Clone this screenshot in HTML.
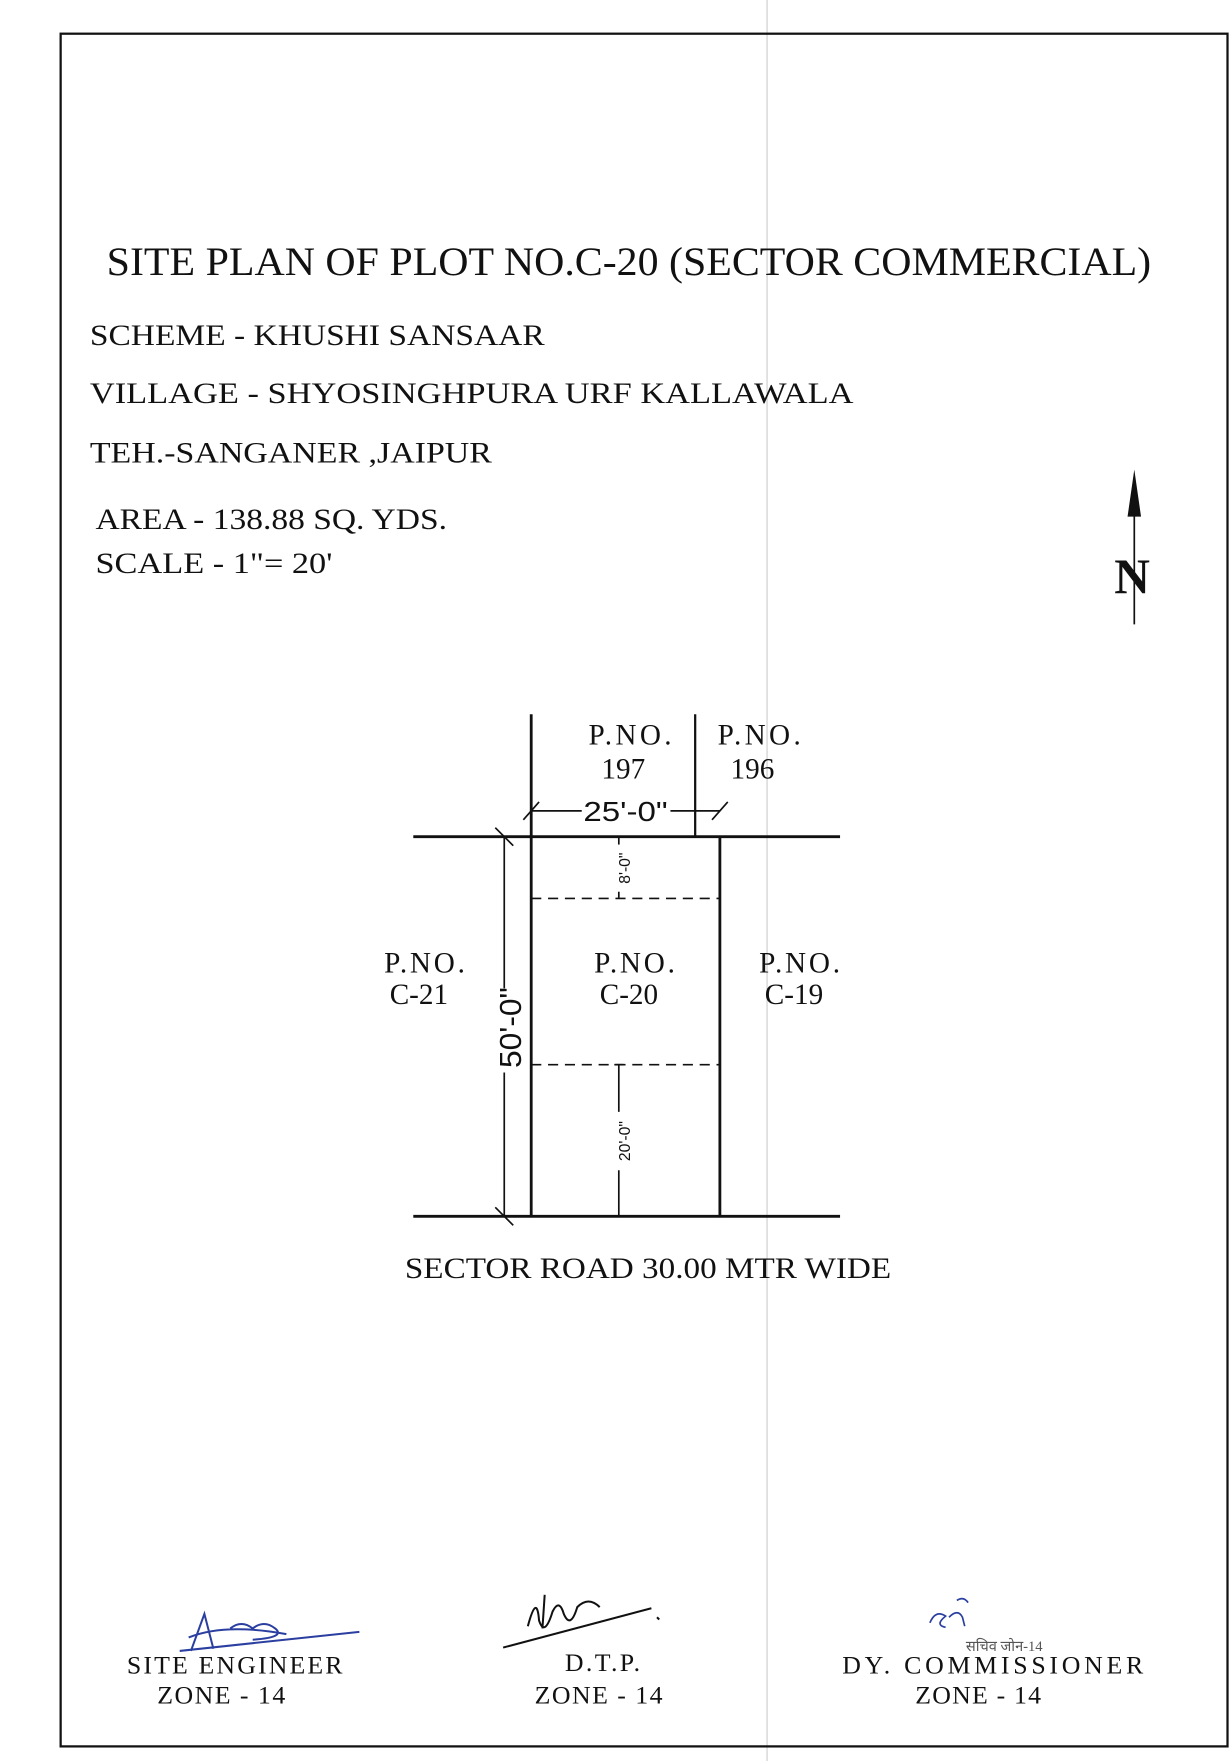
<!DOCTYPE html>
<html><head><style>
html,body{margin:0;padding:0;background:#fff}
svg{display:block}
text{font-family:"Liberation Serif",serif;fill:#111}
.s{font-family:"Liberation Sans",sans-serif}
</style></head><body>
<svg width="1232" height="1761" viewBox="0 0 1097 1568" preserveAspectRatio="none" xmlns="http://www.w3.org/2000/svg">
<rect x="0" y="0" width="1097" height="1568" fill="#fff"/>
<line x1="683" y1="0" x2="683" y2="1568" stroke="#ccc" stroke-width="1"/>
<rect x="54" y="30" width="1039" height="1525" fill="none" stroke="#111" stroke-width="2"/>
<text x="95" y="245" font-size="36" textLength="930" lengthAdjust="spacingAndGlyphs">SITE PLAN OF PLOT NO.C-20 (SECTOR COMMERCIAL)</text>
<text x="80" y="307" font-size="26" textLength="405" lengthAdjust="spacingAndGlyphs">SCHEME - KHUSHI SANSAAR</text>
<text x="80" y="359" font-size="26" textLength="680" lengthAdjust="spacingAndGlyphs">VILLAGE  - SHYOSINGHPURA URF KALLAWALA</text>
<text x="80" y="412" font-size="26" textLength="358" lengthAdjust="spacingAndGlyphs">TEH.-SANGANER ,JAIPUR</text>
<text x="85" y="471" font-size="26" textLength="313" lengthAdjust="spacingAndGlyphs">AREA  - 138.88 SQ. YDS.</text>
<text x="85" y="510" font-size="26" textLength="211" lengthAdjust="spacingAndGlyphs">SCALE -  1"= 20'</text>
<line x1="1010" y1="440" x2="1010" y2="556" stroke="#111" stroke-width="1.5"/>
<polygon points="1010,418 1004,460 1016,460" fill="#111"/>
<text x="1008" y="528" font-size="44" text-anchor="middle" font-weight="bold">N</text>
<g stroke="#111" fill="none">
<line x1="368" y1="745" x2="748" y2="745" stroke-width="2.5"/>
<line x1="368" y1="1083" x2="748" y2="1083" stroke-width="2.5"/>
<line x1="473" y1="636" x2="473" y2="1083" stroke-width="2.5"/>
<line x1="641" y1="745" x2="641" y2="1083" stroke-width="2.5"/>
<line x1="619" y1="636" x2="619" y2="745" stroke-width="2"/>
<line x1="473" y1="800" x2="641" y2="800" stroke-width="1.5" stroke-dasharray="9,6"/>
<line x1="473" y1="948" x2="641" y2="948" stroke-width="1.5" stroke-dasharray="9,6"/>
<line x1="473" y1="722" x2="518" y2="722" stroke-width="1.5"/>
<line x1="597" y1="722" x2="641" y2="722" stroke-width="1.5"/>
<line x1="466" y1="730" x2="480" y2="714" stroke-width="1.5"/>
<line x1="634" y1="730" x2="648" y2="714" stroke-width="1.5"/>
<line x1="449" y1="745" x2="449" y2="880" stroke-width="1.5"/>
<line x1="449" y1="955" x2="449" y2="1083" stroke-width="1.5"/>
<line x1="441" y1="737" x2="457" y2="753" stroke-width="1.5"/>
<line x1="441" y1="1075" x2="457" y2="1091" stroke-width="1.5"/>
<line x1="551" y1="745" x2="551" y2="752" stroke-width="1.5"/>
<line x1="551" y1="794" x2="551" y2="800" stroke-width="1.5"/>
<line x1="551" y1="948" x2="551" y2="990" stroke-width="1.5"/>
<line x1="551" y1="1042" x2="551" y2="1083" stroke-width="1.5"/>
<line x1="547" y1="948" x2="555" y2="948" stroke-width="1.5"/>
</g>
<text class="s" x="557" y="731" font-size="25" text-anchor="middle" textLength="75" lengthAdjust="spacingAndGlyphs">25'-0"</text>
<text class="s" transform="translate(464,915) rotate(-90)" font-size="27" text-anchor="middle" textLength="72" lengthAdjust="spacingAndGlyphs">50'-0"</text>
<text class="s" transform="translate(561,773) rotate(-90)" font-size="14" text-anchor="middle">8'-0"</text>
<text class="s" transform="translate(561,1016) rotate(-90)" font-size="14" text-anchor="middle">20'-0"</text>
<g font-size="26" text-anchor="middle" lengthAdjust="spacingAndGlyphs">
<text x="561" y="663" textLength="74">P.NO.</text><text x="555" y="693">197</text>
<text x="676" y="663" textLength="74">P.NO.</text><text x="670" y="693">196</text>
<text x="378" y="866" textLength="72">P.NO.</text><text x="373" y="894">C-21</text>
<text x="565" y="866" textLength="72">P.NO.</text><text x="560" y="894">C-20</text>
<text x="712" y="866" textLength="72">P.NO.</text><text x="707" y="894">C-19</text>
</g>
<text x="577" y="1138" font-size="26" text-anchor="middle" textLength="433" lengthAdjust="spacingAndGlyphs">SECTOR ROAD 30.00 MTR WIDE</text>
<g fill="none" stroke="#2a3fa0" stroke-width="1.8">
<path d="M170,1470 L182,1437 L190,1468 M168,1458 Q200,1445 255,1455 M205,1450 q10,-8 20,0 q10,-8 20,0 q10,8 -20,10 M160,1470 L320,1453"/>
</g>
<g fill="none" stroke="#111" stroke-width="1.8">
<path d="M448,1467 L580,1432 M470,1448 q8,-30 10,-5 q5,15 12,-8 q6,-12 10,2 q6,14 12,-6 q10,-10 20,0 M485,1420 l-2,30 M585,1440 l2,2"/>
</g>
<g fill="none" stroke="#2a3fa0" stroke-width="1.5">
<path d="M828,1445 q5,-12 14,-6 q-10,8 0,10 M845,1440 q8,-8 12,0 l2,8 M852,1425 q6,-4 10,2"/>
</g>
<text x="860" y="1470" font-size="13" style="fill:#555">सचिव जोन-14</text>
<g font-size="23" lengthAdjust="spacingAndGlyphs">
<text x="113" y="1490" textLength="192">SITE ENGINEER</text>
<text x="140" y="1517" textLength="114">ZONE - 14</text>
<text x="503" y="1488" textLength="67">D.T.P.</text>
<text x="476" y="1517" textLength="114">ZONE - 14</text>
<text x="750" y="1490" textLength="268">DY. COMMISSIONER</text>
<text x="815" y="1517" textLength="112">ZONE - 14</text>
</g>
</svg>
</body></html>
